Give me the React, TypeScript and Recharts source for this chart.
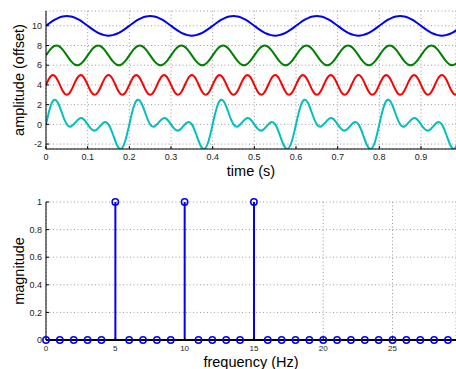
import {
  LineChart,
  ComposedChart,
  Line,
  Bar,
  XAxis,
  YAxis,
  CartesianGrid,
  Label,
} from "recharts"

// time axis (s), sampled every 10 ms
const TIME = [
  0, 0.01, 0.02, 0.03, 0.04, 0.05, 0.06, 0.07, 0.08, 0.09,
  0.1, 0.11, 0.12, 0.13, 0.14, 0.15, 0.16, 0.17, 0.18, 0.19,
  0.2, 0.21, 0.22, 0.23, 0.24, 0.25, 0.26, 0.27, 0.28, 0.29,
  0.3, 0.31, 0.32, 0.33, 0.34, 0.35, 0.36, 0.37, 0.38, 0.39,
  0.4, 0.41, 0.42, 0.43, 0.44, 0.45, 0.46, 0.47, 0.48, 0.49,
  0.5, 0.51, 0.52, 0.53, 0.54, 0.55, 0.56, 0.57, 0.58, 0.59,
  0.6, 0.61, 0.62, 0.63, 0.64, 0.65, 0.66, 0.67, 0.68, 0.69,
  0.7, 0.71, 0.72, 0.73, 0.74, 0.75, 0.76, 0.77, 0.78, 0.79,
  0.8, 0.81, 0.82, 0.83, 0.84, 0.85, 0.86, 0.87, 0.88, 0.89,
  0.9, 0.91, 0.92, 0.93, 0.94, 0.95, 0.96, 0.97, 0.98, 0.99,
]

// 5 Hz, offset 10
const BLUE = [
  10, 10.31, 10.59, 10.81, 10.95, 11, 10.95, 10.81, 10.59, 10.31, 10, 9.69, 9.41, 9.19, 9.05, 9, 9.05, 9.19, 9.41, 9.69,
  10, 10.31, 10.59, 10.81, 10.95, 11, 10.95, 10.81, 10.59, 10.31, 10, 9.69, 9.41, 9.19, 9.05, 9, 9.05, 9.19, 9.41, 9.69,
  10, 10.31, 10.59, 10.81, 10.95, 11, 10.95, 10.81, 10.59, 10.31, 10, 9.69, 9.41, 9.19, 9.05, 9, 9.05, 9.19, 9.41, 9.69,
  10, 10.31, 10.59, 10.81, 10.95, 11, 10.95, 10.81, 10.59, 10.31, 10, 9.69, 9.41, 9.19, 9.05, 9, 9.05, 9.19, 9.41, 9.69,
  10, 10.31, 10.59, 10.81, 10.95, 11, 10.95, 10.81, 10.59, 10.31, 10, 9.69, 9.41, 9.19, 9.05, 9, 9.05, 9.19, 9.41, 9.69,
]

// 10 Hz, offset 7
const GREEN = [
  7, 7.59, 7.95, 7.95, 7.59, 7, 6.41, 6.05, 6.05, 6.41, 7, 7.59, 7.95, 7.95, 7.59, 7, 6.41, 6.05, 6.05, 6.41,
  7, 7.59, 7.95, 7.95, 7.59, 7, 6.41, 6.05, 6.05, 6.41, 7, 7.59, 7.95, 7.95, 7.59, 7, 6.41, 6.05, 6.05, 6.41,
  7, 7.59, 7.95, 7.95, 7.59, 7, 6.41, 6.05, 6.05, 6.41, 7, 7.59, 7.95, 7.95, 7.59, 7, 6.41, 6.05, 6.05, 6.41,
  7, 7.59, 7.95, 7.95, 7.59, 7, 6.41, 6.05, 6.05, 6.41, 7, 7.59, 7.95, 7.95, 7.59, 7, 6.41, 6.05, 6.05, 6.41,
  7, 7.59, 7.95, 7.95, 7.59, 7, 6.41, 6.05, 6.05, 6.41, 7, 7.59, 7.95, 7.95, 7.59, 7, 6.41, 6.05, 6.05, 6.41,
]

// 15 Hz, offset 4
const RED = [
  4, 4.81, 4.95, 4.31, 3.41, 3, 3.41, 4.31, 4.95, 4.81, 4, 3.19, 3.05, 3.69, 4.59, 5, 4.59, 3.69, 3.05, 3.19,
  4, 4.81, 4.95, 4.31, 3.41, 3, 3.41, 4.31, 4.95, 4.81, 4, 3.19, 3.05, 3.69, 4.59, 5, 4.59, 3.69, 3.05, 3.19,
  4, 4.81, 4.95, 4.31, 3.41, 3, 3.41, 4.31, 4.95, 4.81, 4, 3.19, 3.05, 3.69, 4.59, 5, 4.59, 3.69, 3.05, 3.19,
  4, 4.81, 4.95, 4.31, 3.41, 3, 3.41, 4.31, 4.95, 4.81, 4, 3.19, 3.05, 3.69, 4.59, 5, 4.59, 3.69, 3.05, 3.19,
  4, 4.81, 4.95, 4.31, 3.41, 3, 3.41, 4.31, 4.95, 4.81, 4, 3.19, 3.05, 3.69, 4.59, 5, 4.59, 3.69, 3.05, 3.19,
]

// sum of the three, offset 0
const CYAN = [
  0, 1.71, 2.49, 2.07, 0.95, 0, -0.22, 0.17, 0.59, 0.53, 0, -0.53, -0.59, -0.17, 0.22, 0, -0.95, -2.07, -2.49, -1.71,
  0, 1.71, 2.49, 2.07, 0.95, 0, -0.22, 0.17, 0.59, 0.53, 0, -0.53, -0.59, -0.17, 0.22, 0, -0.95, -2.07, -2.49, -1.71,
  0, 1.71, 2.49, 2.07, 0.95, 0, -0.22, 0.17, 0.59, 0.53, 0, -0.53, -0.59, -0.17, 0.22, 0, -0.95, -2.07, -2.49, -1.71,
  0, 1.71, 2.49, 2.07, 0.95, 0, -0.22, 0.17, 0.59, 0.53, 0, -0.53, -0.59, -0.17, 0.22, 0, -0.95, -2.07, -2.49, -1.71,
  0, 1.71, 2.49, 2.07, 0.95, 0, -0.22, 0.17, 0.59, 0.53, 0, -0.53, -0.59, -0.17, 0.22, 0, -0.95, -2.07, -2.49, -1.71,
]

const FREQ = [
  0, 1, 2, 3, 4, 5, 6, 7, 8, 9, 10, 11, 12, 13, 14,
  15, 16, 17, 18, 19, 20, 21, 22, 23, 24, 25, 26, 27, 28, 29,
]
const MAGNITUDE = [
  0, 0, 0, 0, 0, 1, 0, 0, 0, 0, 1, 0, 0, 0, 0,
  1, 0, 0, 0, 0, 0, 0, 0, 0, 0, 0, 0, 0, 0, 0,
]

const TIME_TICKS = [0, 0.1, 0.2, 0.3, 0.4, 0.5, 0.6, 0.7, 0.8, 0.9]
const AMP_TICKS = [-2, 0, 2, 4, 6, 8, 10]
const FREQ_TICKS = [0, 5, 10, 15, 20, 25]
const MAG_TICKS = [0, 0.2, 0.4, 0.6, 0.8, 1]

const signalRows = TIME.map((t, i) => ({
  t,
  blue: BLUE[i],
  green: GREEN[i],
  red: RED[i],
  cyan: CYAN[i],
}))
const spectrumRows = FREQ.map((f, i) => ({ f, mag: MAGNITUDE[i] }))

const FONT = '"Liberation Sans", Arial, Helvetica, sans-serif'
const grid = { stroke: "#9a9a9a", strokeDasharray: "1 2.5" }
const axisLine = { stroke: "#000" }
const tickLine = { stroke: "#000" }

function xTitle(text: string) {
  return (p: any) => {
    const vb = p.viewBox
    return (
      <text
        x={vb.x + vb.width / 2}
        y={vb.y + 21.5}
        textAnchor="middle"
        dominantBaseline="central"
        fontSize={14.5}
        fill="#000"
      >
        {text}
      </text>
    )
  }
}

function yTitle(text: string) {
  return (p: any) => {
    const vb = p.viewBox
    const x = vb.x + 19
    const y = vb.y + vb.height / 2
    return (
      <text
        x={x}
        y={y}
        transform={`rotate(-90 ${x} ${y})`}
        textAnchor="middle"
        dominantBaseline="central"
        fontSize={14.5}
        fill="#000"
      >
        {text}
      </text>
    )
  }
}

export default function App() {
  return (
    <div
      style={{
        position: "absolute",
        left: 0,
        top: 0,
        width: 456,
        height: 369,
        background: "#fff",
        fontFamily: FONT,
      }}
    >
      <LineChart
        width={456}
        height={190}
        data={signalRows}
        margin={{ top: 11, right: 0, bottom: 0, left: 0 }}
      >
        <CartesianGrid {...grid} />
        <XAxis
          dataKey="t"
          type="number"
          domain={[0, 0.984]}
          ticks={TIME_TICKS}
          interval={0}
          allowDataOverflow
          height={41}
          tickSize={-3}
          tickMargin={8}
          axisLine={axisLine}
          tickLine={tickLine}
          tick={{ fill: "#222", fontSize: 9 }}
        >
          <Label content={xTitle("time (s)")} />
        </XAxis>
        <XAxis
          xAxisId="top"
          orientation="top"
          type="number"
          domain={[0, 0.984]}
          ticks={TIME_TICKS}
          interval={0}
          allowDataOverflow
          height={0}
          tickSize={-3}
          tick={false}
          axisLine={axisLine}
          tickLine={tickLine}
        />
        <YAxis
          type="number"
          domain={[-2.5, 11.5]}
          ticks={AMP_TICKS}
          interval={0}
          allowDataOverflow
          width={46}
          tickSize={-3}
          tickMargin={7}
          axisLine={axisLine}
          tickLine={tickLine}
          tick={{ fill: "#222", fontSize: 9 }}
        >
          <Label content={yTitle("amplitude (offset)")} />
        </YAxis>
        <Line dataKey="blue" type="natural" stroke="#0000ff" strokeWidth={2} dot={false} isAnimationActive={false} />
        <Line dataKey="green" type="natural" stroke="#008000" strokeWidth={2} dot={false} isAnimationActive={false} />
        <Line dataKey="red" type="natural" stroke="#ff0000" strokeWidth={2} dot={false} isAnimationActive={false} />
        <Line dataKey="cyan" type="natural" stroke="#00bfbf" strokeWidth={2} dot={false} isAnimationActive={false} />
      </LineChart>

      <ComposedChart
        width={456}
        height={179}
        data={spectrumRows}
        margin={{ top: 12, right: 0, bottom: 0, left: 0 }}
      >
        <CartesianGrid {...grid} />
        <XAxis
          dataKey="f"
          type="number"
          domain={[0, 29.58]}
          ticks={FREQ_TICKS}
          interval={0}
          height={29}
          tickSize={-3}
          tickMargin={8}
          axisLine={{ stroke: "#000", strokeWidth: 1.8 }}
          tickLine={tickLine}
          tick={{ fill: "#222", fontSize: 8 }}
        >
          <Label content={xTitle("frequency (Hz)")} />
        </XAxis>
        <XAxis
          xAxisId="top"
          orientation="top"
          type="number"
          domain={[0, 29.58]}
          ticks={FREQ_TICKS}
          interval={0}
          height={0}
          tickSize={-3}
          tick={false}
          axisLine={axisLine}
          tickLine={tickLine}
        />
        <YAxis
          type="number"
          domain={[0, 1]}
          ticks={MAG_TICKS}
          interval={0}
          width={46}
          tickSize={-3}
          tickMargin={7}
          axisLine={axisLine}
          tickLine={tickLine}
          tick={{ fill: "#222", fontSize: 9 }}
        >
          <Label content={yTitle("magnitude")} />
        </YAxis>
        <Bar dataKey="mag" barSize={2} fill="#0000ff" isAnimationActive={false} />
        <Line
          dataKey="mag"
          stroke="none"
          dot={{ r: 3.2, stroke: "#0000ff", strokeWidth: 1.5, fill: "none" }}
          activeDot={false}
          isAnimationActive={false}
        />
      </ComposedChart>
    </div>
  )
}
